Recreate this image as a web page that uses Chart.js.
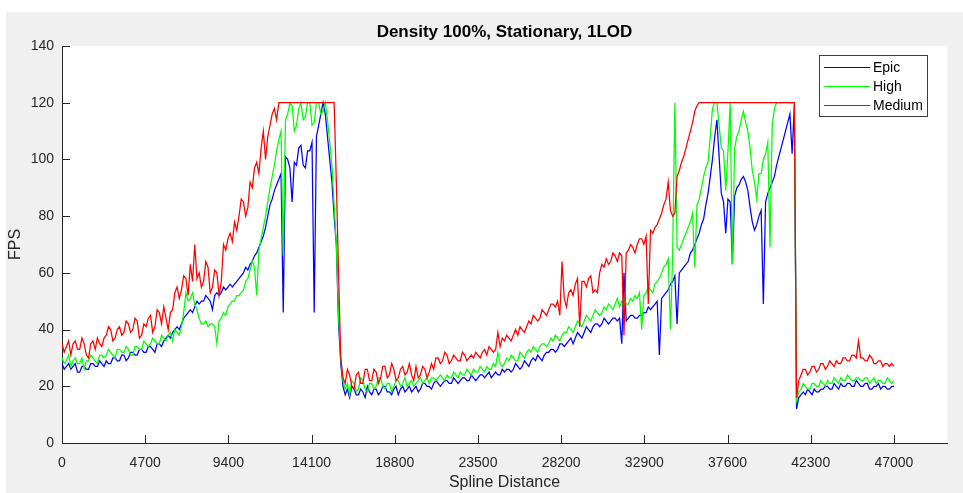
<!DOCTYPE html>
<html>
<head>
<meta charset="utf-8">
<title>Density 100%, Stationary, 1LOD</title>
<script src="https://cdn.jsdelivr.net/npm/chart.js@4.4.0/dist/chart.umd.min.js"></script>
<style>
  html, body { margin: 0; padding: 0; background: #fff; }
  #wrap { width: 963px; height: 493px; }
</style>
</head>
<body>
<div id="wrap"><canvas id="fps-chart" width="963" height="493"></canvas></div>
<script>
// FPS logged along the spline, one sample every 125 units (0 .. 47000)
const SAMPLE_STEP = 125;

const epicFps = [
  28,26, 27,28, 26,27, 28,25, 25,27, 27,26, 26,28, 28,27, 27,29, 28,27,
  29,28, 28,30, 30,29, 29,31, 31,29, 30,32, 32,31, 31,33, 33,32, 32,34,
  34,33, 32,35, 35,34, 36,37, 38,37, 39,40, 41,40, 42,44, 45,46, 47,46,
  48,50, 49,50, 50,52, 51,50, 47,52, 53,52, 53,55, 54,55, 56,55, 56,57,
  58,59, 60,62, 61,63, 64,66, 67,69, 71,73, 76,80, 84,86, 89,91, 93,95,
  46,101, 100,97, 85,99, 98,104, 105,98, 97,103, 103,106, 46,108, 112,116, 120,116,
  108,100, 92,80, 70,42, 28,20, 17,19, 16,20, 19,17, 17,19, 18,16, 20,18,
  17,19, 19,17, 18,20, 20,18, 18,17, 19,20, 17,19, 20,18, 19,20, 18,19,
  20,18, 19,21, 21,20, 20,19, 21,22, 21,20, 21,22, 22,21, 21,23, 22,21,
  22,23, 23,22, 22,24, 23,22, 23,24, 24,23, 24,25, 23,24, 25,24, 24,26,
  25,26, 26,25, 26,28, 27,26, 27,29, 28,27, 29,30, 29,31, 30,29, 31,32,
  32,33, 33,32, 33,35, 35,34, 35,36, 37,35, 37,39, 38,37, 39,41, 40,39,
  41,42, 42,41, 42,44, 43,42, 43,44, 44,43, 44,35, 60,43, 44,45, 45,44,
  44,45, 45,46, 46,48, 47,48, 49,50, 31,51, 52,53, 54,56, 57,59, 42,60,
  61,62, 63,64, 67,68, 70,72, 74,77, 79,84, 88,94, 100,108, 114,101, 88,85,
  74,86, 85,63, 87,90, 91,93, 94,92, 89,83, 78,75, 77,80, 82,49, 85,88,
  90,92, 94,98, 101,104, 107,110, 113,116, 102,119, 12,16, 17,18, 17,19, 18,17,
  19,18, 18,19, 19,20, 20,19, 19,21, 20,19, 21,20, 20,21, 21,20, 20,22,
  21,20, 20,21, 21,19, 19,20, 20,21, 19,20, 20,19, 19,20, 20
];

const highFps = [
  30,28, 29,31, 27,29, 30,28, 28,30, 26,29, 29,31, 30,29, 28,31, 31,30,
  31,33, 32,31, 30,33, 33,32, 32,34, 33,31, 31,34, 34,33, 33,36, 35,34,
  35,37, 36,35, 35,38, 37,36, 38,39, 36,40, 39,38, 41,46, 53,50, 51,53,
  49,47, 44,42, 42,43, 41,42, 42,41, 35,43, 44,46, 45,48, 49,50, 50,52,
  52,53, 54,57, 58,61, 64,62, 52,68, 72,76, 80,85, 90,94, 98,103, 107,110,
  66,114, 116,120, 119,110, 112,118, 120,114, 115,120, 120,112, 113,120, 120,116, 117,120,
  114,106, 98,84, 70,45, 30,22, 19,21, 17,22, 21,18, 19,23, 22,19, 18,21,
  21,19, 20,23, 23,20, 19,21, 21,18, 20,22, 22,20, 21,23, 20,21, 22,20,
  21,22, 23,21, 22,23, 21,23, 23,22, 23,24, 23,22, 24,23, 23,25, 24,23,
  25,24, 24,26, 25,24, 26,25, 25,27, 26,25, 27,26, 26,28, 27,32, 28,27,
  28,30, 29,31, 30,29, 29,32, 31,30, 32,33, 32,34, 33,32, 34,35, 35,34,
  35,37, 36,38, 37,36, 38,39, 39,41, 40,39, 41,43, 42,41, 43,45, 44,43,
  45,47, 46,45, 46,48, 47,49, 48,47, 49,51, 48,50, 51,49, 49,51, 50,52,
  51,53, 40,52, 53,55, 54,53, 56,57, 58,60, 62,63, 65,40, 66,120, 69,68,
  70,72, 74,76, 78,81, 62,84, 86,90, 94,97, 99,108, 118,120, 120,112, 104,103,
  89,103, 120,63, 104,108, 110,114, 117,113, 110,104, 96,92, 86,95, 95,100, 102,106,
  69,112, 118,120, 120,120, 120,120, 120,120, 120,120, 15,18, 19,21, 20,19, 19,21,
  21,20, 20,22, 21,20, 22,21, 21,23, 22,21, 23,22, 22,24, 23,22, 22,23,
  23,22, 22,23, 23,21, 22,23, 21,22, 22,21, 21,23, 22,21, 22
];

const mediumFps = [
  35,32, 34,36, 31,35, 36,33, 33,37, 35,31, 30,35, 36,33, 37,35, 34,37,
  38,41, 40,36, 37,40, 41,38, 39,43, 42,39, 40,44, 43,37, 38,42, 41,44,
  45,39, 41,47, 46,42, 48,44, 40,46, 47,53, 55,51, 54,59, 58,52, 63,57,
  70,58, 60,55, 57,64, 62,53, 55,61, 60,52, 57,70, 68,72, 74,71, 78,75,
  80,86, 85,80, 83,92, 90,97, 99,95, 104,110, 100,108, 112,116, 118,114, 120,120,
  120,120, 120,120, 120,120, 120,120, 120,120, 120,120, 120,120, 120,120, 120,120, 120,120,
  120,120, 120,120, 92,60, 30,23, 21,26, 24,20, 19,24, 25,21, 21,26, 26,22,
  22,26, 25,21, 23,27, 27,23, 24,28, 26,22, 23,26, 27,24, 25,28, 24,22,
  27,23, 24,27, 26,23, 25,28, 26,30, 30,28, 29,32, 31,28, 29,31, 30,29,
  29,32, 31,29, 30,31, 30,32, 31,30, 32,33, 31,34, 33,32, 33,39, 34,37,
  36,38, 37,36, 38,40, 38,41, 40,39, 41,43, 42,45, 44,43, 44,47, 46,45,
  47,49, 49,48, 50,45, 64,51, 48,53, 54,52, 56,58, 41,57, 57,55, 58,59,
  53,54, 53,60, 63,62, 65,63, 64,67, 66,64, 67,66, 38,67, 68,70, 69,67,
  70,72, 72,70, 73,49, 75,74, 76,77, 79,81, 84,86, 92,82, 80,81, 94,96,
  99,101, 104,107, 110,113, 117,119, 120,120, 120,120, 120,120, 120,120, 120,120, 120,120,
  120,120, 120,120, 120,120, 120,120, 120,120, 120,120, 120,120, 120,120, 120,120, 120,120,
  120,120, 120,120, 120,120, 120,120, 120,120, 120,120, 16,22, 24,26, 26,24, 25,27,
  27,25, 26,28, 28,26, 27,29, 28,27, 29,28, 28,30, 30,29, 29,31, 31,30,
  36,30, 30,29, 29,31, 30,28, 28,29, 29,27, 28,28, 27,28, 27
];

const seriesNames = ['Epic', 'High', 'Medium'];
const seriesColors = ['#0000ff', '#00ff00', '#ff0000'];
const seriesValues = [epicFps, highFps, mediumFps];

const xTickValues = [0, 4700, 9400, 14100, 18800, 23500, 28200, 32900, 37600, 42300, 47000];
const yTickValues = [0, 20, 40, 60, 80, 100, 120, 140];

const chartTitle = 'Density 100%, Stationary, 1LOD';
const AXIS_COLOR = '#262626';
const TICK_LEN = 8;

Chart.defaults.font.family = '"Liberation Sans", Arial, Helvetica, sans-serif';

function toPoints(values) {
  return values.map((v, i) => ({ x: i * SAMPLE_STEP, y: v }));
}

// figure background, axes background, inward ticks, title and boxed legend
const matlabLook = {
  id: 'matlabLook',
  beforeDraw(chart) {
    const { ctx, chartArea: a } = chart;
    ctx.save();
    ctx.fillStyle = '#ffffff';
    ctx.fillRect(0, 0, chart.width, chart.height);
    ctx.fillStyle = '#f0f0f0';
    ctx.fillRect(6, 12, chart.width - 6, chart.height - 12);
    ctx.fillStyle = '#ffffff';
    ctx.fillRect(a.left, a.top, a.right - a.left, a.bottom - a.top);
    ctx.restore();
  },
  afterDatasetsDraw(chart) {
    const { ctx, chartArea: a, scales } = chart;
    ctx.save();
    ctx.strokeStyle = AXIS_COLOR;
    ctx.lineWidth = 1;
    ctx.beginPath();
    xTickValues.forEach(v => {
      const px = Math.round(scales.x.getPixelForValue(v)) + 0.5;
      ctx.moveTo(px, a.bottom);
      ctx.lineTo(px, a.bottom - TICK_LEN);
    });
    yTickValues.forEach(v => {
      const py = Math.round(scales.y.getPixelForValue(v)) + 0.5;
      ctx.moveTo(a.left, py);
      ctx.lineTo(a.left + TICK_LEN, py);
    });
    ctx.stroke();
    ctx.restore();
  },
  afterDraw(chart) {
    const { ctx, chartArea: a } = chart;
    ctx.save();

    // title
    ctx.fillStyle = '#000000';
    ctx.font = 'bold 17px "Liberation Sans", Arial, sans-serif';
    ctx.textAlign = 'center';
    ctx.textBaseline = 'middle';
    ctx.fillText(chartTitle, (a.left + a.right) / 2, 32);

    // legend box in the upper right corner of the axes
    const w = 108, h = 61;
    const left = a.right - 20 - w, top = a.top + 9;
    ctx.fillStyle = '#ffffff';
    ctx.fillRect(left, top, w, h);
    ctx.strokeStyle = '#3c3c3c';
    ctx.lineWidth = 1;
    ctx.strokeRect(left + 0.5, top + 0.5, w, h);

    ctx.font = '14px "Liberation Sans", Arial, sans-serif';
    ctx.textAlign = 'left';
    ctx.textBaseline = 'middle';
    seriesNames.forEach((name, k) => {
      const y = top + 12 + k * 19;
      ctx.strokeStyle = seriesColors[k];
      ctx.beginPath();
      ctx.moveTo(left + 5, y + 0.5);
      ctx.lineTo(left + 51, y + 0.5);
      ctx.stroke();
      ctx.fillStyle = '#000000';
      ctx.fillText(name, left + 54, y + 1);
    });
    ctx.restore();
  }
};

// Medium first so it is painted last (on top), Epic at the bottom
const drawOrder = [2, 1, 0];

new Chart(document.getElementById('fps-chart'), {
  type: 'line',
  data: {
    datasets: drawOrder.map(k => ({
      label: seriesNames[k],
      data: toPoints(seriesValues[k]),
      borderColor: seriesColors[k],
      backgroundColor: seriesColors[k],
      borderWidth: 1.25,
      pointRadius: 0,
      tension: 0,
      fill: false
    }))
  },
  options: {
    responsive: false,
    animation: false,
    parsing: false,
    layout: { padding: { top: 46, right: 16, left: 0, bottom: 0 } },
    plugins: {
      legend: { display: false },
      title: { display: false },
      tooltip: { enabled: false }
    },
    scales: {
      x: {
        type: 'linear',
        min: 0,
        max: 50000,
        afterBuildTicks: s => { s.ticks = xTickValues.map(v => ({ value: v })); },
        afterFit: s => { s.height = 50; },
        grid: { display: true, drawOnChartArea: false, drawTicks: false },
        border: { display: true, color: AXIS_COLOR, width: 1 },
        ticks: {
          color: AXIS_COLOR,
          font: { size: 14 },
          padding: 12,
          maxRotation: 0,
          autoSkip: false,
          callback: v => String(v)
        },
        title: {
          display: true,
          text: 'Spline Distance',
          color: AXIS_COLOR,
          font: { size: 16 },
          padding: { top: 0, bottom: 1 }
        }
      },
      y: {
        min: 0,
        max: 140,
        afterBuildTicks: s => { s.ticks = yTickValues.map(v => ({ value: v })); },
        afterFit: s => { s.width = 62; },
        grid: { display: true, drawOnChartArea: false, drawTicks: false },
        border: { display: true, color: AXIS_COLOR, width: 1 },
        ticks: {
          color: AXIS_COLOR,
          font: { size: 14 },
          padding: 8,
          callback: v => String(v)
        },
        title: {
          display: true,
          text: 'FPS',
          color: AXIS_COLOR,
          font: { size: 16 },
          padding: { top: 6, bottom: 0 }
        }
      }
    }
  },
  plugins: [matlabLook]
});
</script>
</body>
</html>
